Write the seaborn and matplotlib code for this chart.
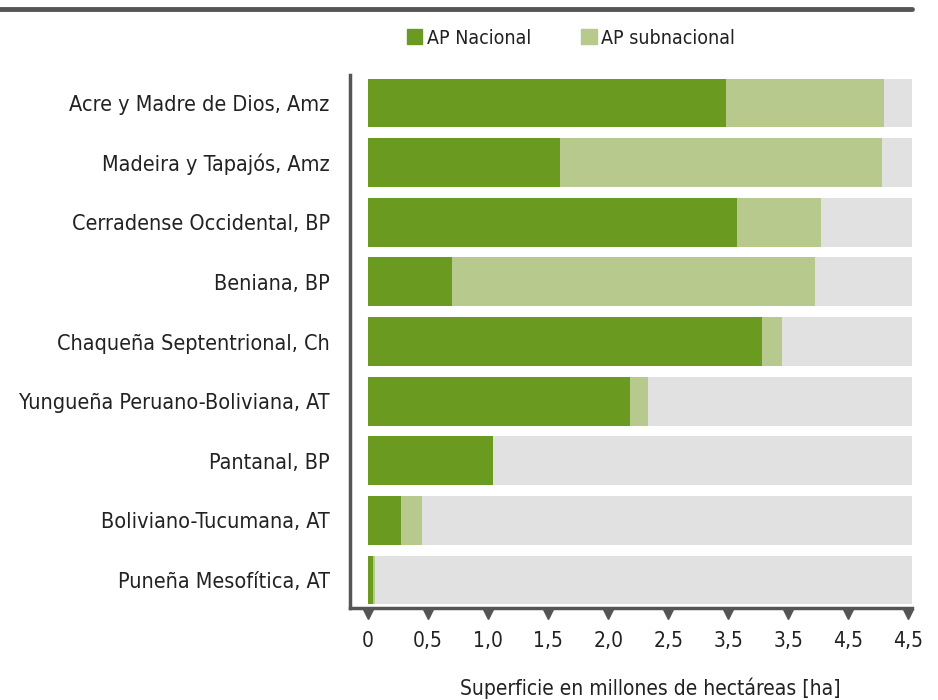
import numpy as np
import pandas as pd
import matplotlib
matplotlib.use("Agg")
import matplotlib.pyplot as plt
from matplotlib.lines import Line2D
from matplotlib.patches import Patch
import seaborn as sns

# Datos (millones de ha)
regiones = [
    "Acre y Madre de Dios, Amz",
    "Madeira y Tapajós, Amz",
    "Cerradense Occidental, BP",
    "Beniana, BP",
    "Chaqueña Septentrional, Ch",
    "Yungueña Peruano-Boliviana, AT",
    "Pantanal, BP",
    "Boliviano-Tucumana, AT",
    "Puneña Mesofítica, AT",
]
ap_nacional = [2.98, 1.60, 3.07, 0.70, 3.28, 2.18, 1.04, 0.275, 0.04]
ap_subnacional = [1.32, 2.68, 0.70, 3.02, 0.17, 0.15, 0.0, 0.175, 0.02]
xticks = [0, 0.5, 1.0, 1.5, 2.0, 2.5, 3.0, 3.5, 4.0, 4.5]
xtick_labels = ["0", "0,5", "1,0", "1,5", "2,0", "2,5", "3,5", "3,5", "4,5", "4,5"]

verde = "#6b9a20"
verde_claro = "#b7c98d"
gris = "#e1e1e1"
oscuro = "#555555"

xmax = 4.53

df = pd.DataFrame({
    "region": regiones,
    "nacional": ap_nacional,
    "total": np.array(ap_nacional) + np.array(ap_subnacional),
    "fondo": [xmax] * len(regiones),
})

sns.set_style("white")
plt.rcParams["font.family"] = ["DejaVu Sans"]
plt.rcParams["font.stretch"] = "condensed"

fig = plt.figure(figsize=(9.38, 7.0), dpi=100)
ax = fig.add_axes([350 / 938, 92 / 700, 562 / 938, 533 / 700])

# fondo gris, total (nacional + subnacional) y nacional encima
sns.barplot(data=df, x="fondo", y="region", color=gris, width=0.82, ax=ax,
            saturation=1, edgecolor="none")
sns.barplot(data=df, x="total", y="region", color=verde_claro, width=0.82, ax=ax,
            saturation=1, edgecolor="none")
sns.barplot(data=df, x="nacional", y="region", color=verde, width=0.82, ax=ax,
            saturation=1, edgecolor="none")

ax.set_xlim(-0.15, xmax)
ax.set_ylim(8.47, -0.47)
ax.set_xticks(xticks)
ax.set_xticklabels(xtick_labels, fontsize=15, color="#222222")
ax.tick_params(axis="x", length=0, pad=16.5)
ax.tick_params(axis="y", length=0, pad=14.5, labelsize=15.5, labelcolor="#222222")
ax.set_ylabel("")
ax.set_xlabel("Superficie en millones de hectáreas [ha]", fontsize=15, color="#222222")
ax.xaxis.set_label_coords(300 / 562, -0.13)

for s in ["top", "right"]:
    ax.spines[s].set_visible(False)
for s in ["left", "bottom"]:
    ax.spines[s].set_color(oscuro)
    ax.spines[s].set_linewidth(2.5)

# marcas triangulares bajo el eje
ax.plot(xticks, [-0.011] * len(xticks), "v", color=oscuro, markersize=7,
        transform=ax.get_xaxis_transform(), clip_on=False)

# linea superior
fig.add_artist(Line2D([0, 912 / 938], [1 - 9 / 700, 1 - 9 / 700], color=oscuro, linewidth=3.5))

handles = [Patch(color=verde, label="AP Nacional"), Patch(color=verde_claro, label="AP subnacional")]
fig.legend(handles=handles, loc="center", bbox_to_anchor=(571 / 938, 1 - 38 / 700), ncol=2,
           frameon=False, fontsize=14, handlelength=0.78, handleheight=0.78,
           handletextpad=0.25, columnspacing=2.6, labelcolor="#222222")

fig.savefig("out.png", dpi=100)
